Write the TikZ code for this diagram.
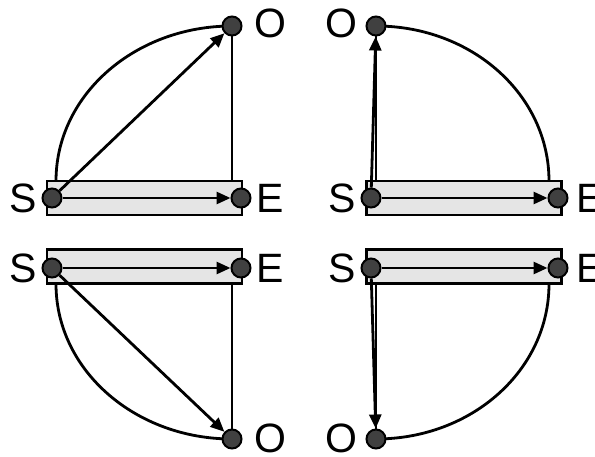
\documentclass[tikz,border=0pt]{standalone}
\usepackage{fontspec}
\setmainfont{Liberation Sans}
\usetikzlibrary{arrows.meta}
\pgfdeclarelayer{barlayer}
\pgfdeclarelayer{linelayer}
\pgfsetlayers{barlayer,linelayer,main}
\begin{document}
\begin{tikzpicture}[x=1pt,y=-1pt,
  dot/.style={circle,draw=black,fill=black!75,line width=2pt,minimum size=19pt,inner sep=0pt},
  bar/.style={draw=black,fill=black!10,line width=2.5pt,minimum width=195pt,minimum height=34pt,inner sep=0pt},
  lbl/.style={font=\fontsize{41}{41}\selectfont,inner sep=0pt},
  conn/.style={line width=2.8pt},
  arr/.style={line width=2.8pt,-{Triangle[length=14pt,width=12pt]}}]
\useasboundingbox (0,0) rectangle (595,457);
\begin{pgfonlayer}{barlayer}
  \node[bar] (b1) at (144.5,198) {};
  \node[bar] (b2) at (464,198) {};
  \node[bar] (b3) at (144.5,266.5) {};
  \node[bar] (b4) at (464,266.5) {};
\end{pgfonlayer}
% ---- top left
\node[dot] (s1) at (52,198) {};
\node[dot] (e1) at (241,198) {};
\node[dot] (o1) at (232,26) {};
\coordinate (a1) at (56,181);
\node[lbl] (ls1) at (23,198) {S};
\node[lbl] (le1) at (270,198) {E};
\node[lbl] (lo1) at (270,23) {O};
% ---- top right
\node[dot] (s2) at (371,198) {};
\node[dot] (e2) at (558,198) {};
\node[dot] (o2) at (376,26) {};
\coordinate (a2) at (549,181);
\node[lbl] (ls2) at (342,198) {S};
\node[lbl,anchor=west] (le2) at (576,198) {E};
\node[lbl] (lo2) at (341,23) {O};
% ---- bottom left
\node[dot] (s3) at (52,268) {};
\node[dot] (e3) at (241,268) {};
\node[dot] (o3) at (232,439) {};
\coordinate (a3) at (56,284);
\node[lbl] (ls3) at (23,268) {S};
\node[lbl] (le3) at (270,268) {E};
\node[lbl] (lo3) at (270,438) {O};
% ---- bottom right
\node[dot] (s4) at (371,268) {};
\node[dot] (e4) at (558,268) {};
\node[dot] (o4) at (376,439) {};
\coordinate (a4) at (549,284);
\node[lbl] (ls4) at (342,268) {S};
\node[lbl,anchor=west] (le4) at (576,268) {E};
\node[lbl] (lo4) at (341,438) {O};
\begin{pgfonlayer}{linelayer}
  % TL
  \draw[conn] (a1) .. controls +(0,-86) and +(-97,0) .. (o1.center);
  \draw[conn] (o1.center) -- (o1 |- b1.north);
  \draw[arr] (s1) -- (o1);
  \draw[arr] (s1) -- (e1);
  % TR
  \draw[conn] (o2.center) .. controls +(96,0) and +(0,-86) .. (a2);
  \draw[conn] (o2.center) -- (o2 |- b2.north);
  \draw[arr] (s2) -- (o2);
  \draw[arr] (s2) -- (e2);
  % BL
  \draw[conn] (a3) .. controls +(0,86) and +(-97,0) .. (o3.center);
  \draw[conn] (o3.center) -- (o3 |- b3.south);
  \draw[arr] (s3) -- (o3);
  \draw[arr] (s3) -- (e3);
  % BR
  \draw[conn] (o4.center) .. controls +(96,0) and +(0,86) .. (a4);
  \draw[conn] (o4.center) -- (o4 |- b4.south);
  \draw[arr] (s4) -- (o4);
  \draw[arr] (s4) -- (e4);
\end{pgfonlayer}
\end{tikzpicture}
\end{document}
